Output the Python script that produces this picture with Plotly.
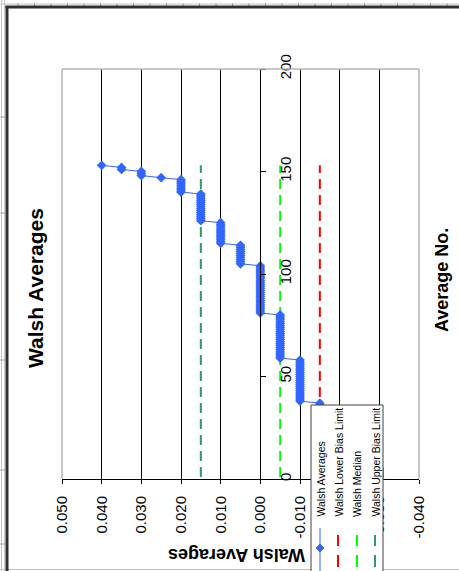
import numpy as np
import plotly.graph_objects as go

# ---- data -----------------------------------------------------------------
# Sorted Walsh averages: each distinct level and how many averages sit on it
walsh_levels = [-0.030, -0.025, -0.020, -0.015, -0.010, -0.005, 0.000,
                0.005, 0.010, 0.015, 0.020, 0.025, 0.030, 0.035, 0.040]
level_counts = [5, 8, 11, 13, 21, 22, 24, 10, 11, 14, 7, 1, 3, 2, 1]

walsh_values = np.repeat(walsh_levels, level_counts)
average_no = np.arange(1, len(walsh_values) + 1)

lower_bias_limit = -0.015
walsh_median = -0.005
upper_bias_limit = 0.015

value_ticks = [0.050, 0.040, 0.030, 0.020, 0.010, 0.000,
               -0.010, -0.020, -0.030, -0.040]
value_tick_text = ["0.050", "0.040", "0.030", "0.020", "0.010", "0.000",
                   "-0.010", "-0.020", "-0.030", "-0.040"]
count_ticks = [0, 50, 100, 150, 200]
count_tick_text = ["0", "50", "100", "150", "200"]

# ---- page geometry (pixels) -------------------------------------------------
W, H = 459, 571
L, R, T, B = 62, 40, 69, 92
PW, PH = W - L - R, H - T - B
FONT = "Arial, Liberation Sans, sans-serif"


def fx(px):
    return (px - L) / PW


def fy(py):
    return (H - B - py) / PH


fig = go.Figure()

n_first, n_last = average_no[0], average_no[-1]
for val, color in [(upper_bias_limit, "#339966"),
                   (walsh_median, "#00FF00"),
                   (lower_bias_limit, "#FF0000")]:
    fig.add_trace(go.Scatter(
        x=[val, val], y=[n_first, n_last], mode="lines",
        line=dict(color=color, width=2, dash="10px,6px"),
        showlegend=False, hoverinfo="skip"))

fig.add_trace(go.Scatter(
    x=walsh_values, y=average_no, mode="lines+markers",
    line=dict(color="#3366FF", width=1),
    marker=dict(symbol="diamond", size=7.5, color="#3366FF"),
    showlegend=False))

x_lo, x_hi = value_ticks[0], value_ticks[-1]
zero_pos = (x_lo - 0.0) / (x_lo - x_hi)

fig.update_layout(
    width=W, height=H,
    margin=dict(l=L, r=R, t=T, b=B, pad=0),
    paper_bgcolor="white", plot_bgcolor="white",
    font=dict(family=FONT, size=15, color="black"),
    showlegend=False,
    xaxis=dict(
        range=[x_lo, x_hi], tickmode="array",
        tickvals=value_ticks, ticktext=value_tick_text,
        tickangle=-90, ticks="outside", ticklen=4, tickcolor="black",
        showline=True, linecolor="black", linewidth=1,
        showgrid=True, gridcolor="black", gridwidth=1,
        zeroline=False, tickfont=dict(size=15), ticklabelstandoff=6,
    ),
    yaxis=dict(
        range=[0, 200], tickmode="array",
        tickvals=count_ticks, ticktext=count_tick_text,
        tickangle=-90, side="right", anchor="free", position=zero_pos,
        ticks="outside", ticklen=5, tickcolor="black",
        showline=True, linecolor="black", linewidth=1,
        showgrid=False, zeroline=False, tickfont=dict(size=15),
        ticklabelstandoff=7,
    ),
)

shapes = []
# plot-area border (top, left, right)
for x0, y0, x1, y1 in [(L, T, L + PW, T), (L, T, L, T + PH),
                       (L + PW, T, L + PW, T + PH)]:
    shapes.append(dict(type="line", xref="paper", yref="paper",
                       x0=fx(x0), y0=fy(y0), x1=fx(x1), y1=fy(y1),
                       line=dict(color="#B4B4B4", width=1.5), layer="above"))

# sheet frame around the chart
shapes.append(dict(type="line", xref="paper", yref="paper",
                   x0=fx(0), y0=fy(4), x1=fx(W), y1=fy(4),
                   line=dict(color="#C0C0C0", width=1), layer="above"))
shapes.append(dict(type="line", xref="paper", yref="paper",
                   x0=fx(0), y0=fy(569.5), x1=fx(W), y1=fy(569.5),
                   line=dict(color="#C0C0C0", width=1), layer="above"))
for gx in (1.5, 4.5):
    shapes.append(dict(type="line", xref="paper", yref="paper",
                       x0=fx(gx), y0=fy(0), x1=fx(gx), y1=fy(H),
                       line=dict(color="#C8C8C8", width=1), layer="above"))
tx = 18.0
while tx < W:
    shapes.append(dict(type="line", xref="paper", yref="paper",
                       x0=fx(tx), y0=fy(3.5), x1=fx(tx), y1=fy(6),
                       line=dict(color="#909090", width=1), layer="above"))
    tx += 16.5
for ty in (117, 213, 360, 470, 544):
    shapes.append(dict(type="line", xref="paper", yref="paper",
                       x0=fx(0), y0=fy(ty), x1=fx(5), y1=fy(ty),
                       line=dict(color="#A0A0A0", width=1), layer="above"))
shapes.append(dict(type="line", xref="paper", yref="paper",
                   x0=fx(7), y0=fy(6), x1=fx(7), y1=fy(H),
                   line=dict(color="#303030", width=3), layer="above"))
shapes.append(dict(type="line", xref="paper", yref="paper",
                   x0=fx(5.5), y0=fy(7), x1=fx(W), y1=fy(7),
                   line=dict(color="#303030", width=3), layer="above"))

# legend box
shapes.append(dict(type="rect", xref="paper", yref="paper",
                   x0=fx(311), y0=fy(405), x1=fx(383), y1=fy(580),
                   fillcolor="white", line=dict(color="#404040", width=1),
                   layer="above"))
leg_x = [320, 338, 357, 375]
leg_labels = ["Walsh Averages", "Walsh Lower Bias Limit",
              "Walsh Median", "Walsh Upper Bias Limit"]
leg_colors = ["#3366FF", "#FF0000", "#00FF00", "#339966"]
# Walsh Averages sample: line with diamond
shapes.append(dict(type="line", xref="paper", yref="paper",
                   x0=fx(leg_x[0]), y0=fy(528), x1=fx(leg_x[0]), y1=fy(575),
                   line=dict(color="#3366FF", width=1), layer="above"))
cx, cy, hw = leg_x[0], 548, 4
path = "M {} {} L {} {} L {} {} L {} {} Z".format(
    fx(cx), fy(cy - hw), fx(cx + hw), fy(cy),
    fx(cx), fy(cy + hw), fx(cx - hw), fy(cy))
shapes.append(dict(type="path", xref="paper", yref="paper", path=path,
                   fillcolor="#3366FF", line=dict(color="#3366FF", width=1),
                   layer="above"))
for xc, col in zip(leg_x[1:], leg_colors[1:]):
    for y0, y1 in [(535, 546), (555, 567)]:
        shapes.append(dict(type="line", xref="paper", yref="paper",
                           x0=fx(xc), y0=fy(y0), x1=fx(xc), y1=fy(y1),
                           line=dict(color=col, width=2), layer="above"))

annotations = []
for xc, text in zip(leg_x, leg_labels):
    annotations.append(dict(text=text, xref="paper", yref="paper",
                            x=fx(xc), y=fy(519), xanchor="center",
                            yanchor="bottom", textangle=-90, showarrow=False,
                            font=dict(size=10.5, family=FONT, color="black")))

annotations.append(dict(text="<b>Walsh Averages</b>", xref="paper",
                        yref="paper", x=fx(35), y=fy(288), xanchor="center",
                        yanchor="middle", textangle=-90, showarrow=False,
                        font=dict(size=21, family=FONT, color="black")))
annotations.append(dict(text="<b>Walsh Averages</b>", xref="paper",
                        yref="paper", x=fx(237), y=fy(555), xanchor="center",
                        yanchor="middle", textangle=180, showarrow=False,
                        font=dict(size=18, family=FONT, color="black")))
annotations.append(dict(text="<b>Average No.</b>", xref="paper",
                        yref="paper", x=fx(442), y=fy(280), xanchor="center",
                        yanchor="middle", textangle=-90, showarrow=False,
                        font=dict(size=18, family=FONT, color="black")))

fig.update_layout(shapes=shapes, annotations=annotations)
fig.write_html("out.html")
